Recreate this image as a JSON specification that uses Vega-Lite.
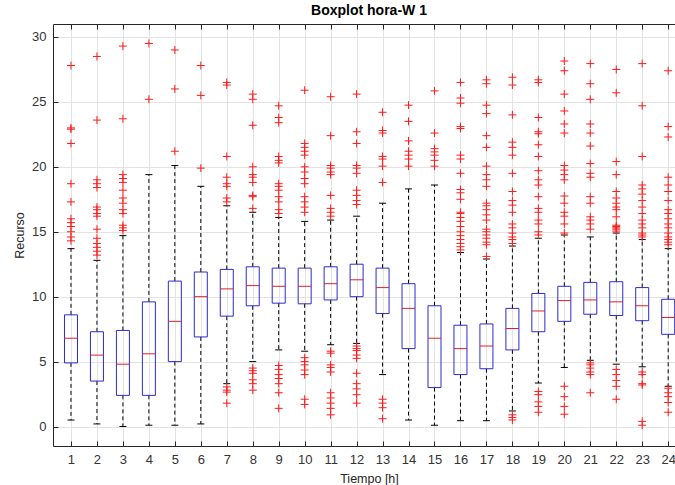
{
  "$schema": "https://vega.github.io/schema/vega-lite/v6.json",
  "autosize": "none",
  "width": 622,
  "height": 422,
  "padding": {"left": 53, "top": 24, "right": 0, "bottom": 39},
  "background": "white",
  "title": {"text": "Boxplot hora-W 1", "fontSize": 14, "fontWeight": "bold", "font": "Liberation Sans", "color": "#000000", "anchor": "middle", "dx": 5, "offset": 6},
  "config": {
    "view": {"stroke": null},
    "axis": {"labelFont": "Liberation Sans", "titleFont": "Liberation Sans", "labelFontSize": 13, "titleFontSize": 12.5, "labelColor": "#333333", "titleColor": "#262626", "domainColor": "#262626", "tickColor": "#262626", "gridColor": "#e3e3e3", "titleFontWeight": "normal", "labelFlush": false, "labelOverlap": false}
  },
  "datasets": {
    "stats": [
      {"hour": 1, "wlo": 0.5, "q1": 4.9, "med": 6.8, "q3": 8.6, "whi": 13.7},
      {"hour": 2, "wlo": 0.2, "q1": 3.5, "med": 5.5, "q3": 7.3, "whi": 12.8},
      {"hour": 3, "wlo": 0.0, "q1": 2.4, "med": 4.8, "q3": 7.4, "whi": 14.7},
      {"hour": 4, "wlo": 0.1, "q1": 2.4, "med": 5.6, "q3": 9.6, "whi": 19.4},
      {"hour": 5, "wlo": 0.1, "q1": 5.0, "med": 8.1, "q3": 11.2, "whi": 20.1},
      {"hour": 6, "wlo": 0.2, "q1": 6.9, "med": 10.0, "q3": 11.9, "whi": 18.5},
      {"hour": 7, "wlo": 3.3, "q1": 8.5, "med": 10.6, "q3": 12.1, "whi": 17.0},
      {"hour": 8, "wlo": 5.0, "q1": 9.3, "med": 10.85, "q3": 12.3, "whi": 16.5},
      {"hour": 9, "wlo": 5.9, "q1": 9.5, "med": 10.8, "q3": 12.2, "whi": 16.1},
      {"hour": 10, "wlo": 5.8, "q1": 9.45, "med": 10.8, "q3": 12.2, "whi": 15.8},
      {"hour": 11, "wlo": 6.3, "q1": 9.75, "med": 11.0, "q3": 12.3, "whi": 15.9},
      {"hour": 12, "wlo": 6.4, "q1": 10.0, "med": 11.3, "q3": 12.5, "whi": 16.2},
      {"hour": 13, "wlo": 4.0, "q1": 8.7, "med": 10.7, "q3": 12.2, "whi": 17.2},
      {"hour": 14, "wlo": 0.5, "q1": 6.0, "med": 9.1, "q3": 11.0, "whi": 18.3},
      {"hour": 15, "wlo": 0.1, "q1": 3.0, "med": 6.8, "q3": 9.3, "whi": 18.6},
      {"hour": 16, "wlo": 0.45, "q1": 4.0, "med": 6.0, "q3": 7.8, "whi": 13.4},
      {"hour": 17, "wlo": 0.45, "q1": 4.45, "med": 6.2, "q3": 7.9, "whi": 12.9},
      {"hour": 18, "wlo": 1.2, "q1": 5.9, "med": 7.55, "q3": 9.1, "whi": 13.9},
      {"hour": 19, "wlo": 3.35, "q1": 7.3, "med": 8.9, "q3": 10.25, "whi": 14.5},
      {"hour": 20, "wlo": 4.55, "q1": 8.1, "med": 9.7, "q3": 10.8, "whi": 14.75},
      {"hour": 21, "wlo": 5.1, "q1": 8.65, "med": 9.75, "q3": 11.1, "whi": 14.6},
      {"hour": 22, "wlo": 4.8, "q1": 8.55, "med": 9.6, "q3": 11.15, "whi": 14.9},
      {"hour": 23, "wlo": 4.6, "q1": 8.15, "med": 9.3, "q3": 10.7, "whi": 14.4},
      {"hour": 24, "wlo": 3.1, "q1": 7.1, "med": 8.4, "q3": 9.8, "whi": 13.7}
    ],
    "outliers": [
      {"hour": 1, "value": 27.8}, {"hour": 1, "value": 23.0}, {"hour": 1, "value": 22.9}, {"hour": 1, "value": 21.8}, {"hour": 1, "value": 18.7}, {"hour": 1, "value": 17.3}, {"hour": 1, "value": 16.0}, {"hour": 1, "value": 15.7}, {"hour": 1, "value": 15.4}, {"hour": 1, "value": 15.0}, {"hour": 1, "value": 14.6}, {"hour": 1, "value": 14.3},
      {"hour": 2, "value": 28.5}, {"hour": 2, "value": 23.6}, {"hour": 2, "value": 19.0}, {"hour": 2, "value": 18.7}, {"hour": 2, "value": 18.4}, {"hour": 2, "value": 16.9}, {"hour": 2, "value": 16.7}, {"hour": 2, "value": 16.4}, {"hour": 2, "value": 16.2}, {"hour": 2, "value": 15.2}, {"hour": 2, "value": 14.5}, {"hour": 2, "value": 14.1}, {"hour": 2, "value": 13.8}, {"hour": 2, "value": 13.5}, {"hour": 2, "value": 13.2},
      {"hour": 3, "value": 29.3}, {"hour": 3, "value": 23.7}, {"hour": 3, "value": 19.4}, {"hour": 3, "value": 19.1}, {"hour": 3, "value": 18.8}, {"hour": 3, "value": 18.2}, {"hour": 3, "value": 17.6}, {"hour": 3, "value": 17.2}, {"hour": 3, "value": 16.7}, {"hour": 3, "value": 16.4}, {"hour": 3, "value": 15.5}, {"hour": 3, "value": 15.3}, {"hour": 3, "value": 15.1},
      {"hour": 4, "value": 29.5}, {"hour": 4, "value": 25.2},
      {"hour": 5, "value": 29.0}, {"hour": 5, "value": 26.0}, {"hour": 5, "value": 21.2},
      {"hour": 6, "value": 27.8}, {"hour": 6, "value": 25.5}, {"hour": 6, "value": 19.9},
      {"hour": 7, "value": 26.5}, {"hour": 7, "value": 26.3}, {"hour": 7, "value": 20.8}, {"hour": 7, "value": 19.2}, {"hour": 7, "value": 18.7}, {"hour": 7, "value": 18.5}, {"hour": 7, "value": 17.6}, {"hour": 7, "value": 17.3}, {"hour": 7, "value": 3.05}, {"hour": 7, "value": 2.8}, {"hour": 7, "value": 2.65}, {"hour": 7, "value": 1.8},
      {"hour": 8, "value": 25.6}, {"hour": 8, "value": 25.2}, {"hour": 8, "value": 23.2}, {"hour": 8, "value": 20.0}, {"hour": 8, "value": 19.4}, {"hour": 8, "value": 19.2}, {"hour": 8, "value": 18.8}, {"hour": 8, "value": 17.8}, {"hour": 8, "value": 17.7}, {"hour": 8, "value": 16.8}, {"hour": 8, "value": 4.5}, {"hour": 8, "value": 4.3}, {"hour": 8, "value": 4.1}, {"hour": 8, "value": 3.6}, {"hour": 8, "value": 3.3}, {"hour": 8, "value": 2.8},
      {"hour": 9, "value": 24.7}, {"hour": 9, "value": 23.8}, {"hour": 9, "value": 23.4}, {"hour": 9, "value": 20.8}, {"hour": 9, "value": 20.5}, {"hour": 9, "value": 20.3}, {"hour": 9, "value": 18.7}, {"hour": 9, "value": 18.5}, {"hour": 9, "value": 18.2}, {"hour": 9, "value": 17.7}, {"hour": 9, "value": 17.3}, {"hour": 9, "value": 16.7}, {"hour": 9, "value": 16.4}, {"hour": 9, "value": 4.7}, {"hour": 9, "value": 4.4}, {"hour": 9, "value": 4.0}, {"hour": 9, "value": 3.7}, {"hour": 9, "value": 3.3}, {"hour": 9, "value": 2.6}, {"hour": 9, "value": 1.4},
      {"hour": 10, "value": 25.9}, {"hour": 10, "value": 21.8}, {"hour": 10, "value": 21.5}, {"hour": 10, "value": 21.2}, {"hour": 10, "value": 20.9}, {"hour": 10, "value": 20.0}, {"hour": 10, "value": 19.6}, {"hour": 10, "value": 19.1}, {"hour": 10, "value": 18.7}, {"hour": 10, "value": 17.7}, {"hour": 10, "value": 17.3}, {"hour": 10, "value": 16.9}, {"hour": 10, "value": 16.5}, {"hour": 10, "value": 5.3}, {"hour": 10, "value": 5.0}, {"hour": 10, "value": 4.75}, {"hour": 10, "value": 4.35}, {"hour": 10, "value": 4.0}, {"hour": 10, "value": 2.1}, {"hour": 10, "value": 1.7},
      {"hour": 11, "value": 25.4}, {"hour": 11, "value": 22.4}, {"hour": 11, "value": 20.1}, {"hour": 11, "value": 19.9}, {"hour": 11, "value": 19.6}, {"hour": 11, "value": 19.4}, {"hour": 11, "value": 17.8}, {"hour": 11, "value": 16.8}, {"hour": 11, "value": 16.5}, {"hour": 11, "value": 16.2}, {"hour": 11, "value": 5.8}, {"hour": 11, "value": 5.65}, {"hour": 11, "value": 4.75}, {"hour": 11, "value": 4.55}, {"hour": 11, "value": 4.2}, {"hour": 11, "value": 2.6}, {"hour": 11, "value": 2.2}, {"hour": 11, "value": 1.8}, {"hour": 11, "value": 1.4}, {"hour": 11, "value": 0.9},
      {"hour": 12, "value": 25.6}, {"hour": 12, "value": 22.7}, {"hour": 12, "value": 21.8}, {"hour": 12, "value": 20.1}, {"hour": 12, "value": 19.9}, {"hour": 12, "value": 19.5}, {"hour": 12, "value": 18.2}, {"hour": 12, "value": 17.8}, {"hour": 12, "value": 17.4}, {"hour": 12, "value": 17.1}, {"hour": 12, "value": 6.2}, {"hour": 12, "value": 6.0}, {"hour": 12, "value": 5.85}, {"hour": 12, "value": 5.5}, {"hour": 12, "value": 5.25}, {"hour": 12, "value": 4.1}, {"hour": 12, "value": 3.3}, {"hour": 12, "value": 2.9}, {"hour": 12, "value": 2.45}, {"hour": 12, "value": 1.8},
      {"hour": 13, "value": 24.2}, {"hour": 13, "value": 22.8}, {"hour": 13, "value": 22.6}, {"hour": 13, "value": 20.8}, {"hour": 13, "value": 20.6}, {"hour": 13, "value": 20.05}, {"hour": 13, "value": 18.8}, {"hour": 13, "value": 2.1}, {"hour": 13, "value": 1.8}, {"hour": 13, "value": 1.45}, {"hour": 13, "value": 0.6},
      {"hour": 14, "value": 24.75}, {"hour": 14, "value": 23.5}, {"hour": 14, "value": 22.0}, {"hour": 14, "value": 21.2}, {"hour": 14, "value": 20.9}, {"hour": 14, "value": 20.6}, {"hour": 14, "value": 20.05},
      {"hour": 15, "value": 25.85}, {"hour": 15, "value": 22.6}, {"hour": 15, "value": 21.4}, {"hour": 15, "value": 21.15}, {"hour": 15, "value": 20.9}, {"hour": 15, "value": 20.5}, {"hour": 15, "value": 20.05},
      {"hour": 16, "value": 26.5}, {"hour": 16, "value": 25.3}, {"hour": 16, "value": 24.9}, {"hour": 16, "value": 23.1}, {"hour": 16, "value": 22.95}, {"hour": 16, "value": 20.9}, {"hour": 16, "value": 20.6}, {"hour": 16, "value": 19.5}, {"hour": 16, "value": 18.25}, {"hour": 16, "value": 18.0}, {"hour": 16, "value": 17.5}, {"hour": 16, "value": 16.5}, {"hour": 16, "value": 16.4}, {"hour": 16, "value": 16.1}, {"hour": 16, "value": 15.8}, {"hour": 16, "value": 15.4}, {"hour": 16, "value": 15.0}, {"hour": 16, "value": 14.7}, {"hour": 16, "value": 14.4}, {"hour": 16, "value": 14.1}, {"hour": 16, "value": 13.85}, {"hour": 16, "value": 13.6},
      {"hour": 17, "value": 26.7}, {"hour": 17, "value": 26.4}, {"hour": 17, "value": 24.75}, {"hour": 17, "value": 24.1}, {"hour": 17, "value": 22.4}, {"hour": 17, "value": 21.5}, {"hour": 17, "value": 20.05}, {"hour": 17, "value": 19.4}, {"hour": 17, "value": 19.0}, {"hour": 17, "value": 18.5}, {"hour": 17, "value": 17.2}, {"hour": 17, "value": 17.0}, {"hour": 17, "value": 16.7}, {"hour": 17, "value": 16.3}, {"hour": 17, "value": 15.9}, {"hour": 17, "value": 15.2}, {"hour": 17, "value": 15.0}, {"hour": 17, "value": 14.75}, {"hour": 17, "value": 14.5}, {"hour": 17, "value": 14.2}, {"hour": 17, "value": 14.0}, {"hour": 17, "value": 13.1},
      {"hour": 18, "value": 26.9}, {"hour": 18, "value": 26.3}, {"hour": 18, "value": 24.0}, {"hour": 18, "value": 21.9}, {"hour": 18, "value": 21.5}, {"hour": 18, "value": 20.9}, {"hour": 18, "value": 19.5}, {"hour": 18, "value": 18.1}, {"hour": 18, "value": 17.4}, {"hour": 18, "value": 17.05}, {"hour": 18, "value": 16.5}, {"hour": 18, "value": 15.6}, {"hour": 18, "value": 15.3}, {"hour": 18, "value": 14.9}, {"hour": 18, "value": 14.6}, {"hour": 18, "value": 14.4}, {"hour": 18, "value": 14.1}, {"hour": 18, "value": 0.9}, {"hour": 18, "value": 0.7}, {"hour": 18, "value": 0.5},
      {"hour": 19, "value": 26.7}, {"hour": 19, "value": 26.5}, {"hour": 19, "value": 23.8}, {"hour": 19, "value": 22.7}, {"hour": 19, "value": 22.55}, {"hour": 19, "value": 21.7}, {"hour": 19, "value": 20.8}, {"hour": 19, "value": 19.7}, {"hour": 19, "value": 19.0}, {"hour": 19, "value": 18.6}, {"hour": 19, "value": 17.7}, {"hour": 19, "value": 16.8}, {"hour": 19, "value": 16.5}, {"hour": 19, "value": 15.9}, {"hour": 19, "value": 15.6}, {"hour": 19, "value": 15.0}, {"hour": 19, "value": 14.75}, {"hour": 19, "value": 2.7}, {"hour": 19, "value": 2.45}, {"hour": 19, "value": 1.9}, {"hour": 19, "value": 1.55}, {"hour": 19, "value": 1.1},
      {"hour": 20, "value": 28.15}, {"hour": 20, "value": 27.4}, {"hour": 20, "value": 25.6}, {"hour": 20, "value": 24.3}, {"hour": 20, "value": 23.3}, {"hour": 20, "value": 22.6}, {"hour": 20, "value": 20.1}, {"hour": 20, "value": 19.75}, {"hour": 20, "value": 19.4}, {"hour": 20, "value": 19.0}, {"hour": 20, "value": 17.75}, {"hour": 20, "value": 17.2}, {"hour": 20, "value": 16.5}, {"hour": 20, "value": 16.2}, {"hour": 20, "value": 15.6}, {"hour": 20, "value": 14.9}, {"hour": 20, "value": 3.1}, {"hour": 20, "value": 2.3}, {"hour": 20, "value": 1.55}, {"hour": 20, "value": 0.95},
      {"hour": 21, "value": 27.95}, {"hour": 21, "value": 26.4}, {"hour": 21, "value": 25.2}, {"hour": 21, "value": 23.3}, {"hour": 21, "value": 22.6}, {"hour": 21, "value": 21.6}, {"hour": 21, "value": 20.25}, {"hour": 21, "value": 19.5}, {"hour": 21, "value": 19.2}, {"hour": 21, "value": 17.7}, {"hour": 21, "value": 17.2}, {"hour": 21, "value": 16.15}, {"hour": 21, "value": 15.9}, {"hour": 21, "value": 15.6}, {"hour": 21, "value": 15.2}, {"hour": 21, "value": 4.9}, {"hour": 21, "value": 4.75}, {"hour": 21, "value": 4.5}, {"hour": 21, "value": 4.2}, {"hour": 21, "value": 4.0}, {"hour": 21, "value": 2.6},
      {"hour": 22, "value": 27.5}, {"hour": 22, "value": 25.7}, {"hour": 22, "value": 20.4}, {"hour": 22, "value": 19.4}, {"hour": 22, "value": 18.1}, {"hour": 22, "value": 17.6}, {"hour": 22, "value": 17.2}, {"hour": 22, "value": 16.9}, {"hour": 22, "value": 16.7}, {"hour": 22, "value": 16.15}, {"hour": 22, "value": 15.5}, {"hour": 22, "value": 15.4}, {"hour": 22, "value": 15.3}, {"hour": 22, "value": 15.2}, {"hour": 22, "value": 15.05}, {"hour": 22, "value": 4.4}, {"hour": 22, "value": 4.0}, {"hour": 22, "value": 3.55}, {"hour": 22, "value": 3.1}, {"hour": 22, "value": 2.1},
      {"hour": 23, "value": 27.95}, {"hour": 23, "value": 24.7}, {"hour": 23, "value": 20.8}, {"hour": 23, "value": 18.6}, {"hour": 23, "value": 18.3}, {"hour": 23, "value": 17.9}, {"hour": 23, "value": 17.4}, {"hour": 23, "value": 16.9}, {"hour": 23, "value": 16.4}, {"hour": 23, "value": 15.9}, {"hour": 23, "value": 15.6}, {"hour": 23, "value": 15.3}, {"hour": 23, "value": 14.9}, {"hour": 23, "value": 14.75}, {"hour": 23, "value": 14.6}, {"hour": 23, "value": 4.2}, {"hour": 23, "value": 4.0}, {"hour": 23, "value": 3.3}, {"hour": 23, "value": 3.2}, {"hour": 23, "value": 0.4}, {"hour": 23, "value": 0.1},
      {"hour": 24, "value": 27.4}, {"hour": 24, "value": 23.1}, {"hour": 24, "value": 22.3}, {"hour": 24, "value": 19.2}, {"hour": 24, "value": 18.6}, {"hour": 24, "value": 18.1}, {"hour": 24, "value": 17.4}, {"hour": 24, "value": 16.7}, {"hour": 24, "value": 16.4}, {"hour": 24, "value": 16.0}, {"hour": 24, "value": 15.6}, {"hour": 24, "value": 15.3}, {"hour": 24, "value": 14.9}, {"hour": 24, "value": 14.6}, {"hour": 24, "value": 14.4}, {"hour": 24, "value": 14.2}, {"hour": 24, "value": 14.0}, {"hour": 24, "value": 2.95}, {"hour": 24, "value": 2.6}, {"hour": 24, "value": 2.3}, {"hour": 24, "value": 1.85}, {"hour": 24, "value": 1.1}
    ]
  },
  "layer": [
    {
      "data": {"name": "stats"},
      "mark": {"type": "rule", "color": "#000000", "strokeWidth": 1, "strokeDash": [4, 3], "clip": true},
      "encoding": {
        "x": {"field": "hour", "type": "quantitative", "title": "Tiempo [h]",
          "scale": {"domain": [0.5, 24.07], "nice": false, "zero": false},
          "axis": {"orient": "bottom", "values": [1,2,3,4,5,6,7,8,9,10,11,12,13,14,15,16,17,18,19,20,21,22,23,24], "grid": true, "tickSize": -5, "labelPadding": 12, "labelAngle": 0, "titleX": 316, "titlePadding": 6}},
        "y": {"field": "q3", "type": "quantitative", "title": "Recurso",
          "scale": {"domain": [-1.5, 31], "nice": false, "zero": false},
          "axis": {"values": [0, 5, 10, 15, 20, 25, 30], "grid": true, "tickSize": -5, "labelPadding": 12, "titlePadding": 5}},
        "y2": {"field": "whi"}
      }
    },
    {
      "data": {"name": "stats"},
      "mark": {"type": "rule", "color": "#000000", "strokeWidth": 1, "strokeDash": [4, 3], "clip": true},
      "encoding": {
        "x": {"field": "hour", "type": "quantitative", "axis": null},
        "y": {"field": "q1", "type": "quantitative", "title": "Recurso"},
        "y2": {"field": "wlo"}
      }
    },
    {
      "data": {"name": "stats"},
      "mark": {"type": "bar", "size": 13, "fillOpacity": 0, "stroke": "#2b2bd0", "strokeWidth": 1, "clip": true},
      "encoding": {
        "x": {"field": "hour", "type": "quantitative", "axis": null},
        "y": {"field": "q1", "type": "quantitative", "title": "Recurso"},
        "y2": {"field": "q3"}
      }
    },
    {
      "data": {"name": "stats"},
      "mark": {"type": "tick", "orient": "horizontal", "size": 13, "thickness": 1, "color": "#e02020", "opacity": 1, "clip": true},
      "encoding": {
        "x": {"field": "hour", "type": "quantitative", "axis": null},
        "y": {"field": "med", "type": "quantitative", "title": "Recurso"}
      }
    },
    {
      "data": {"name": "stats"},
      "mark": {"type": "tick", "orient": "horizontal", "size": 7, "thickness": 1, "color": "#000000", "opacity": 1, "clip": true},
      "encoding": {
        "x": {"field": "hour", "type": "quantitative", "axis": null},
        "y": {"field": "whi", "type": "quantitative", "title": "Recurso"}
      }
    },
    {
      "data": {"name": "stats"},
      "mark": {"type": "tick", "orient": "horizontal", "size": 7, "thickness": 1, "color": "#000000", "opacity": 1, "clip": true},
      "encoding": {
        "x": {"field": "hour", "type": "quantitative", "axis": null},
        "y": {"field": "wlo", "type": "quantitative", "title": "Recurso"}
      }
    },
    {
      "data": {"name": "outliers"},
      "mark": {"type": "point", "shape": "M-1,0H1M0,-1V1", "filled": false, "stroke": "#ff1a1a", "strokeWidth": 1, "size": 64, "opacity": 1, "clip": true},
      "encoding": {
        "x": {"field": "hour", "type": "quantitative",
          "axis": {"orient": "top", "values": [1,2,3,4,5,6,7,8,9,10,11,12,13,14,15,16,17,18,19,20,21,22,23,24], "labels": false, "grid": false, "tickSize": -5, "title": null}},
        "y": {"field": "value", "type": "quantitative", "title": "Recurso"}
      }
    }
  ],
  "resolve": {"axis": {"x": "independent"}}
}
